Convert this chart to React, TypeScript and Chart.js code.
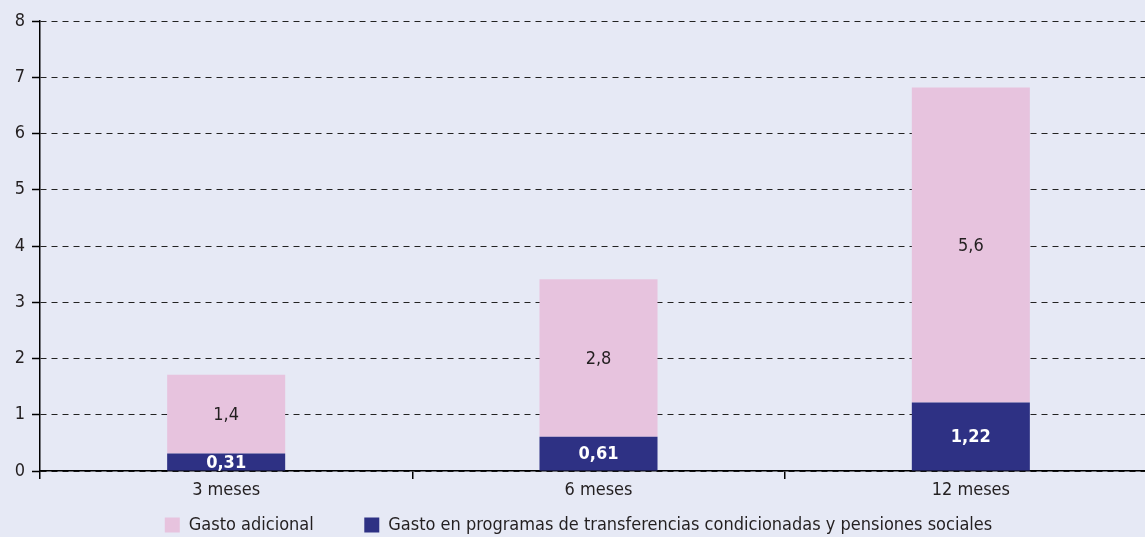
import React, { useEffect, useRef } from "react";
import { Chart, registerables } from "chart.js";

Chart.register(...registerables);

const categories = ["3 meses", "6 meses", "12 meses"];
const programas = [0.31, 0.61, 1.22];
const adicional = [1.4, 2.8, 5.6];
const programasLabels = ["0,31", "0,61", "1,22"];
const adicionalLabels = ["1,4", "2,8", "5,6"];
const yTicks = [0, 1, 2, 3, 4, 5, 6, 7, 8];

const FONT = "'Liberation Sans Narrow', 'DejaVu Sans Condensed', 'Arial Narrow', sans-serif";
const BG = "#e6e9f5";
const PINK = "#e7c3de";
const NAVY = "#2e3184";
const FS = 18;

const valueLabels = {
  id: "valueLabels",
  afterDatasetsDraw(chart: any) {
    const ctx = chart.ctx;
    const texts = [programasLabels, adicionalLabels];
    chart.data.datasets.forEach((ds: any, di: number) => {
      const meta = chart.getDatasetMeta(di);
      meta.data.forEach((bar: any, i: number) => {
        const cy = (bar.y + bar.base) / 2;
        ctx.save();
        ctx.font = (di === 0 ? "bold " : "") + FS + "px " + FONT;
        ctx.fillStyle = di === 0 ? "#ffffff" : "#231f20";
        ctx.textAlign = "center";
        ctx.textBaseline = "middle";
        ctx.fillText(texts[di][i], bar.x, cy + 1);
        ctx.restore();
      });
    });
  },
};

const bgPlugin = {
  id: "bgFill",
  beforeDraw(chart: any) {
    const ctx = chart.ctx;
    ctx.save();
    ctx.fillStyle = BG;
    ctx.fillRect(0, 0, chart.width, chart.height);
    ctx.restore();
  },
};

export default function App() {
  const ref = useRef<HTMLCanvasElement | null>(null);
  useEffect(() => {
    document.body.style.margin = "0";
    document.body.style.overflow = "hidden";
    document.body.style.background = BG;
    const canvas = ref.current!;
    const chart = new Chart(canvas, {
      type: "bar",
      data: {
        labels: categories,
        datasets: [
          {
            label: "Gasto en programas de transferencias condicionadas y pensiones sociales",
            data: programas,
            backgroundColor: NAVY,
            barPercentage: 0.317,
            categoryPercentage: 1,
          },
          {
            label: "Gasto adicional",
            data: adicional,
            backgroundColor: PINK,
            barPercentage: 0.317,
            categoryPercentage: 1,
          },
        ],
      },
      options: {
        animation: false,
        responsive: false,
        maintainAspectRatio: false,
        layout: { padding: { top: 21, right: 0, bottom: -7, left: 0 } },
        plugins: {
          tooltip: { enabled: false },
          legend: {
            position: "bottom",
            reverse: true,
            labels: {
              color: "#231f20",
              font: { family: FONT, size: FS },
              boxWidth: 15,
              boxHeight: 15,
              padding: 10,
              generateLabels(chart: any) {
                const items = Chart.defaults.plugins.legend.labels.generateLabels(chart);
                return items.map((it: any) => {
                  if (it.datasetIndex === 1) it.text = it.text + "\u2003\u2003\u2002";
                  it.lineWidth = 0;
                  return it;
                });
              },
            },
          },
        },
        scales: {
          x: {
            stacked: true,
            afterFit(scale: any) {
              scale.height = 35;
            },
            border: { display: true, color: "#000000", width: 1.5 },
            grid: {
              display: true,
              offset: true,
              drawOnChartArea: false,
              drawTicks: true,
              tickLength: 8,
              color: "#000000",
              lineWidth: 1.5,
            },
            ticks: {
              color: "#231f20",
              font: { family: FONT, size: FS },
              padding: 1,
            },
          },
          y: {
            stacked: true,
            min: 0,
            max: 8,
            afterFit(scale: any) {
              scale.width = 40;
            },
            afterBuildTicks(scale: any) {
              scale.ticks = yTicks.map((v) => ({ value: v }));
            },
            border: { display: true, color: "#000000", width: 1.5, dash: [6, 5] },
            grid: {
              display: true,
              color: "#222222",
              lineWidth: 1,
              tickLength: 8,
              tickColor: "#000000",
              tickWidth: 1.5,
              tickBorderDash: [],
            },
            ticks: {
              color: "#231f20",
              font: { family: FONT, size: FS },
              padding: 7,
            },
          } as any,
        },
      },
      plugins: [bgPlugin, valueLabels],
    } as any);
    return () => chart.destroy();
  }, []);
  return <canvas ref={ref} width={1157} height={537} style={{ display: "block" }} />;
}
